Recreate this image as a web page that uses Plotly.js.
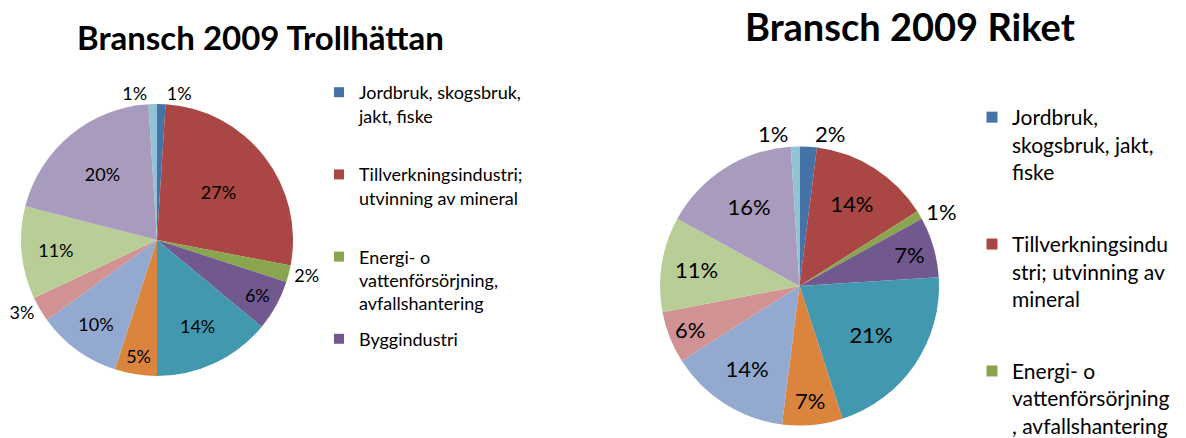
<!DOCTYPE html>
<html>
<head>
<meta charset="utf-8">
<script src="https://cdn.plot.ly/plotly-3.0.1.min.js"></script>
<style>
  html, body { margin: 0; padding: 0; background: #fff; }
  #chart { width: 1186px; height: 438px; }
</style>
</head>
<body>
<div id="chart"></div>
<script>
"use strict"

// branscher (SNI), same order in both pies, clockwise from 12 o'clock
var branscher = [
	'Jordbruk, skogsbruk, jakt, fiske',
	'Tillverkningsindustri; utvinning av mineral',
	'Energi- o vattenförsörjning, avfallshantering',
	'Byggindustri',
	'Handel; transport, magasinering; kommunikation',
	'Kreditinstitut, fastighetsförvaltning, företagstjänster',
	'Offentlig förvaltning o övr. organisationer',
	'Utbildning o forskning',
	'Vård och omsorg',
	'Personliga och kulturella tjänster',
	'Okänd verksamhet'
];

// andel (%)
var trollhattan = [1, 27, 2, 6, 14, 5, 10, 3, 11, 20, 1];
var riket = [2, 14, 1, 7, 21, 7, 14, 6, 11, 16, 1];

// legend texts as wrapped in each chart (only the entries that are visible)
var legendTrollhattan = [
	'Jordbruk, skogsbruk,<br>jakt, fiske<br> ',
	'Tillverkningsindustri;<br>utvinning av mineral<br> ',
	'Energi- o<br>vattenförsörjning,<br>avfallshantering',
	'Byggindustri'
];
var legendRiket = [
	'Jordbruk,<br>skogsbruk, jakt,<br>fiske',
	'Tillverkningsindu<br>stri; utvinning av<br>mineral',
	'Energi- o<br>vattenförsörjning<br>, avfallshantering'
];

var colors = ['#4572A7', '#AA4643', '#89A54E', '#71588F', '#4198AF', '#DB843D',
	'#93A9D0', '#D09292', '#B9CD96', '#A99BBD', '#92C3D4'];

var posTrollhattan = ['outside', 'inside', 'outside', 'inside', 'inside', 'inside',
	'inside', 'outside', 'inside', 'inside', 'outside'];
var posRiket = ['outside', 'inside', 'outside', 'inside', 'inside', 'inside',
	'inside', 'inside', 'inside', 'inside', 'outside'];

var W = 1186, H = 438;

// pie domain from a centre and radius in pixels
function domain(cx, cy, r){
	return {
		x: [(cx - r) / W, (cx + r) / W],
		y: [1 - (cy + r) / H, 1 - (cy - r) / H]
	};
}

function pie(values, pos, dom, size){
	return {
		type: 'pie',
		labels: branscher,
		values: values,
		sort: false,
		direction: 'clockwise',
		rotation: 0,
		domain: dom,
		marker: {colors: colors, line: {width: 0}},
		texttemplate: '%{percent:.0%}',
		textposition: pos,
		insidetextorientation: 'horizontal',
		textfont: {family: 'Lato', size: size, color: '#000'},
		showlegend: false,
		hoverinfo: 'label+percent'
	};
}

var data = [
	pie(trollhattan, posTrollhattan, domain(157, 240, 136), 18),
	pie(riket, posRiket, domain(799.5, 286, 139.5), 22)
];

legendTrollhattan.forEach(function(name, i){
	data.push({
		type: 'scatter', mode: 'markers', x: [null], y: [null],
		name: name, legend: 'legend', legendgroup: 't' + i,
		marker: {symbol: 'square', size: 10, color: colors[i]}
	});
});
legendRiket.forEach(function(name, i){
	data.push({
		type: 'scatter', mode: 'markers', x: [null], y: [null],
		name: name, legend: 'legend2', legendgroup: 'r' + i,
		marker: {symbol: 'square', size: 11, color: colors[i]}
	});
});

var layout = {
	width: W,
	height: H,
	margin: {l: 0, r: 0, t: 0, b: 0, autoexpand: false},
	paper_bgcolor: '#fff',
	plot_bgcolor: '#fff',
	font: {family: 'Lato', color: '#000'},
	xaxis: {visible: false},
	yaxis: {visible: false},
	legend: {
		x: 319 / W, xanchor: 'left',
		y: 1 - 74 / H, yanchor: 'top',
		valign: 'top',
		tracegroupgap: 9,
		font: {family: 'Lato', size: 18, color: '#000'},
		bgcolor: 'rgba(0,0,0,0)'
	},
	legend2: {
		x: 972 / W, xanchor: 'left',
		y: 1 - 97 / H, yanchor: 'top',
		valign: 'top',
		tracegroupgap: 42,
		font: {family: 'Lato', size: 21, color: '#000'},
		bgcolor: 'rgba(0,0,0,0)'
	},
	annotations: [
		{text: '<b>Bransch 2009 Trollhättan</b>', x: 260 / W, y: 1 - 37 / H,
			xref: 'paper', yref: 'paper', xanchor: 'center', yanchor: 'middle',
			showarrow: false, font: {family: 'Lato', size: 33, color: '#000'}},
		{text: '<b>Bransch 2009 Riket</b>', x: 910 / W, y: 1 - 26 / H,
			xref: 'paper', yref: 'paper', xanchor: 'center', yanchor: 'middle',
			showarrow: false, font: {family: 'Lato', size: 38, color: '#000'}}
	]
};

Plotly.newPlot('chart', data, layout, {displayModeBar: false, staticPlot: true});
</script>
</body>
</html>
